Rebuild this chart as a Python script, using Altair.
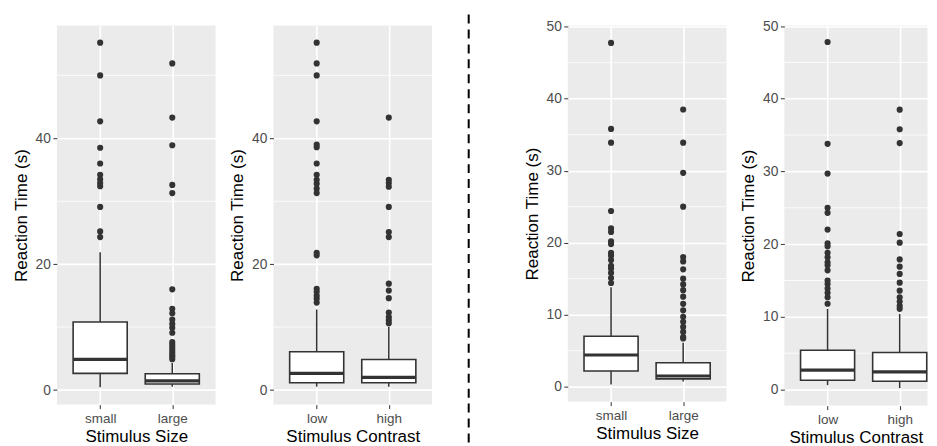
import altair as alt
import pandas as pd

# ---------------- data ----------------
# panel 1: Stimulus Size (left experiment)
p1_cats = ["small", "large"]
p1_lo = [0.42, 0.53]
p1_q1 = [2.64, 0.95]
p1_med = [4.86, 1.45]
p1_q3 = [10.8, 2.58]
p1_hi = [21.9, 4.3]
p1_out_small = [55.2, 50.0, 42.7, 38.5, 36.0, 34.2, 33.5, 32.9, 32.4, 29.1, 25.2, 24.3]
p1_out_large = [51.9, 43.3, 38.9, 32.6, 31.3, 16.0, 12.9, 12.2, 11.2, 10.5, 9.9, 9.1,
                7.6, 7.2, 6.8, 6.4, 6.0, 5.6, 5.3, 4.9]

# panel 2: Stimulus Contrast (left experiment)
p2_cats = ["low", "high"]
p2_lo = [0.53, 0.5]
p2_q1 = [1.16, 1.16]
p2_med = [2.64, 2.0]
p2_q3 = [6.07, 4.86]
p2_hi = [12.8, 10.0]
p2_out_low = [55.2, 51.9, 50.0, 42.7, 39.0, 38.6, 36.0, 34.2, 33.4, 32.8, 32.0, 31.3,
              21.8, 21.4, 16.1, 15.6, 15.0, 14.5, 13.9]
p2_out_high = [43.3, 33.4, 32.9, 32.3, 29.1, 25.1, 24.3, 16.9, 15.8, 14.6, 12.3, 11.6,
               11.1, 10.6]

# panel 3: Stimulus Size (right experiment)
p3_cats = ["small", "large"]
p3_lo = [0.3, 0.7]
p3_q1 = [2.17, 1.08]
p3_med = [4.4, 1.48]
p3_q3 = [7.0, 3.32]
p3_hi = [13.8, 6.1]
p3_out_small = [47.75, 35.8, 33.9, 24.4, 22.0, 21.5, 20.2, 19.8, 18.6, 18.2, 17.6, 16.8,
                16.4, 15.8, 15.1, 14.4]
p3_out_large = [38.5, 33.9, 29.7, 25.0, 18.0, 17.4, 16.3, 15.0, 14.2, 13.4, 12.5, 11.5,
                10.6, 9.7, 9.0, 8.3, 7.6, 6.9, 6.7]

# panel 4: Stimulus Contrast (right experiment)
p4_cats = ["low", "high"]
p4_lo = [0.6, 0.2]
p4_q1 = [1.28, 1.15]
p4_med = [2.66, 2.43]
p4_q3 = [5.4, 5.1]
p4_hi = [11.1, 10.4]
p4_out_low = [47.8, 33.8, 29.7, 25.0, 24.3, 22.0, 20.1, 19.7, 18.8, 18.2, 17.5, 17.1,
              16.4, 15.0, 14.5, 13.9, 13.3, 12.7, 11.8]
p4_out_high = [38.5, 35.8, 33.9, 21.4, 20.2, 17.9, 16.9, 15.9, 14.7, 13.6, 12.7, 12.1,
               11.5, 11.1]

y_title = "Reaction Time (s)"

BOX_HALF = 0.375
INK = "#333333"
FONT = "Liberation Sans"


def panel(cats, lo, q1, med, q3, hi, outs, xtitle, ydom, ymajor, yminor,
          width, height, xdom):
    pos = [1, 2]
    box = pd.DataFrame({
        "pos": pos, "x1": [p - BOX_HALF for p in pos], "x2": [p + BOX_HALF for p in pos],
        "lo": lo, "q1": q1, "med": med, "q3": q3, "hi": hi,
    })
    out = pd.DataFrame({
        "pos": [1] * len(outs[0]) + [2] * len(outs[1]),
        "v": list(outs[0]) + list(outs[1]),
    })
    minor = pd.DataFrame({"m": yminor})

    label_expr = f"datum.value == 1 ? '{cats[0]}' : '{cats[1]}'"
    xaxis = alt.Axis(values=[1, 2], labelExpr=label_expr, title=xtitle, grid=True,
                     gridColor="white", gridWidth=1.6, domain=False, tickColor=INK,
                     tickSize=4, labelColor="#4D4D4D", labelFontSize=13.5, labelPadding=3,
                     titleFontSize=17, titleFontWeight="normal", titleColor="black",
                     minExtent=19, maxExtent=19, titlePadding=4.5, labelFlush=False)
    yaxis = alt.Axis(values=ymajor, title=y_title, grid=True, gridColor="white",
                     gridWidth=1.6, domain=False, tickColor=INK, tickSize=4,
                     labelColor="#4D4D4D", labelFontSize=13.8, labelPadding=2.5,
                     titleFontSize=17, titleFontWeight="normal", titleColor="black",
                     minExtent=22, maxExtent=22, titlePadding=4.7)
    xs = alt.Scale(domain=xdom, nice=False, zero=False)
    ys = alt.Scale(domain=ydom, nice=False, zero=False)

    def X(f):
        return alt.X(f, type="quantitative", scale=xs, axis=xaxis)

    def Y(f):
        return alt.Y(f, type="quantitative", scale=ys, axis=yaxis)

    minor_l = alt.Chart(minor).mark_rule(color="white", strokeWidth=0.8).encode(y=Y("m:Q"))
    wl = alt.Chart(box).mark_rule(color=INK, strokeWidth=1.5).encode(
        x=X("pos:Q"), y=Y("lo:Q"), y2="q1:Q")
    wh = alt.Chart(box).mark_rule(color=INK, strokeWidth=1.5).encode(
        x=X("pos:Q"), y=Y("q3:Q"), y2="hi:Q")
    rect = alt.Chart(box).mark_rect(fill="white", stroke=INK, strokeWidth=1.6).encode(
        x=X("x1:Q"), x2="x2:Q", y=Y("q1:Q"), y2="q3:Q")
    medl = alt.Chart(box).mark_rule(color=INK, strokeWidth=3.2).encode(
        x=X("x1:Q"), x2="x2:Q", y=Y("med:Q"))
    pts = alt.Chart(out).mark_circle(color=INK, opacity=1, size=38).encode(
        x=X("pos:Q"), y=Y("v:Q"))
    return alt.layer(minor_l, wl, wh, rect, medl, pts).properties(width=width, height=height)


p1 = panel(p1_cats, p1_lo, p1_q1, p1_med, p1_q3, p1_hi, [p1_out_small, p1_out_large],
           "Stimulus Size", [-2.32, 57.94], [0, 20, 40], [10, 30, 50], 159, 380, [0.4, 2.6])
p2 = panel(p2_cats, p2_lo, p2_q1, p2_med, p2_q3, p2_hi, [p2_out_low, p2_out_high],
           "Stimulus Contrast", [-2.32, 57.94], [0, 20, 40], [10, 30, 50], 159, 380, [0.4, 2.6])
p3 = panel(p3_cats, p3_lo, p3_q1, p3_med, p3_q3, p3_hi, [p3_out_small, p3_out_large],
           "Stimulus Size", [-2.08, 50.18], [0, 10, 20, 30, 40, 50], [5, 15, 25, 35, 45],
           159, 377, [0.4, 2.6])
# right edge of the last panel is cut off by the picture edge
p4 = panel(p4_cats, p4_lo, p4_q1, p4_med, p4_q3, p4_hi, [p4_out_low, p4_out_high],
           "Stimulus Contrast", [-2.21, 50.08], [0, 10, 20, 30, 40, 50], [5, 15, 25, 35, 45],
           143.5, 381, [0.4, 2.3856])

divider = alt.Chart(pd.DataFrame({"a": [0]})).mark_rule(
    color="black", strokeWidth=2, strokeDash=[9, 6]
).encode(x=alt.value(-21.3), y=alt.value(-11), y2=alt.value(418)).properties(
    width=20, height=380, view=alt.ViewBackground(fill="white", stroke="white", strokeWidth=0))

chart = alt.hconcat(p1, p2, divider, p3, p4, spacing=58, bounds="flush").properties(
    padding={"left": 4, "top": 5, "right": 0, "bottom": 0}
).configure(font=FONT).configure_view(fill="#EBEBEB", stroke=None)

chart.save("out.html", embed_options={"renderer": "svg", "actions": False})
